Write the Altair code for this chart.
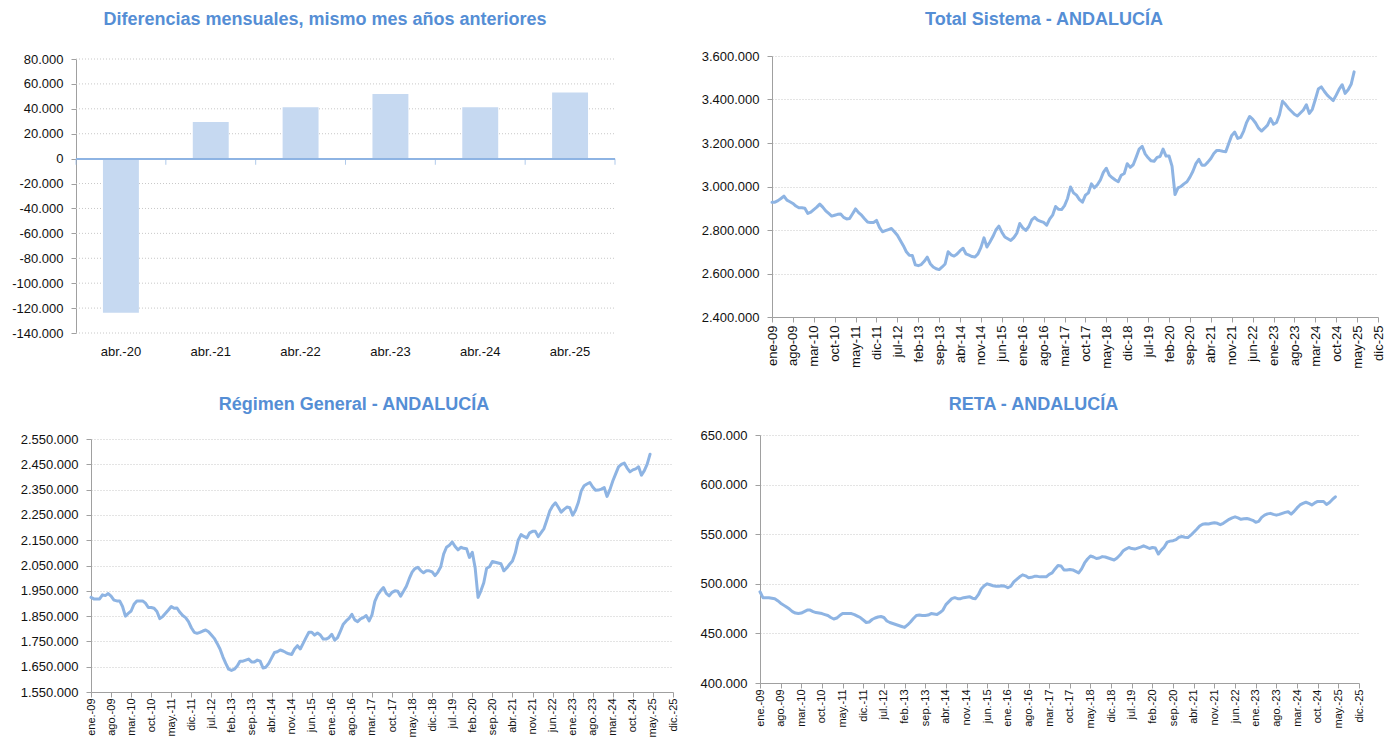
import json
import altair as alt
import pandas as pd

# ------------------------------------------------------------------ data
bar_categories = ["abr.-20", "abr.-21", "abr.-22", "abr.-23", "abr.-24", "abr.-25"]
bar_values = [-123800, 29400, 41200, 51900, 41200, 53200]

tick_labels_guion = ["ene-09", "ago-09", "mar-10", "oct-10", "may-11", "dic-11", "jul-12",
                     "feb-13", "sep-13", "abr-14", "nov-14", "jun-15", "ene-16", "ago-16",
                     "mar-17", "oct-17", "may-18", "dic-18", "jul-19", "feb-20", "sep-20",
                     "abr-21", "nov-21", "jun-22", "ene-23", "ago-23", "mar-24", "oct-24",
                     "may-25", "dic-25"]
tick_labels_punto = ["ene.-09", "ago.-09", "mar.-10", "oct.-10", "may.-11", "dic.-11", "jul.-12",
                     "feb.-13", "sep.-13", "abr.-14", "nov.-14", "jun.-15", "ene.-16", "ago.-16",
                     "mar.-17", "oct.-17", "may.-18", "dic.-18", "jul.-19", "feb.-20", "sep.-20",
                     "abr.-21", "nov.-21", "jun.-22", "ene.-23", "ago.-23", "mar.-24", "oct.-24",
                     "may.-25", "dic.-25"]

# monthly affiliates (thousands), ene-09 ... abr-25, one row per year
total_sistema = [
    2928, 2928, 2935, 2945, 2956, 2937, 2930, 2922, 2910, 2902, 2902, 2900,
    2876, 2882, 2894, 2905, 2919, 2905, 2888, 2876, 2864, 2868, 2872, 2874,
    2858, 2851, 2853, 2875, 2897, 2880, 2868, 2852, 2837, 2834, 2835, 2844,
    2812, 2792, 2797, 2802, 2807, 2792, 2776, 2752, 2728, 2700, 2684, 2683,
    2640, 2636, 2641, 2656, 2675, 2645, 2630, 2622, 2618, 2630, 2644, 2700,
    2686, 2680, 2690, 2705, 2716, 2690, 2684, 2678, 2676, 2690, 2720, 2764,
    2722, 2745, 2770, 2800, 2818, 2790, 2768, 2760, 2752, 2765, 2785, 2830,
    2810, 2798, 2815, 2846, 2858, 2845, 2840, 2835, 2822, 2850, 2868, 2908,
    2895, 2894, 2912, 2945, 2998, 2971, 2960, 2940, 2928, 2960, 2971, 3012,
    2994, 3008, 3030, 3065, 3084, 3052, 3040, 3030, 3022, 3052, 3060, 3105,
    3088, 3100, 3135, 3172, 3185, 3150, 3132, 3118, 3116, 3134, 3138, 3172,
    3140, 3140, 3094, 2963, 2994, 3000, 3012, 3022, 3043, 3070, 3105, 3125,
    3098, 3098, 3112, 3129, 3152, 3166, 3165, 3162, 3160, 3198, 3235, 3250,
    3221, 3226, 3255, 3295, 3322, 3310, 3292, 3268, 3255, 3268, 3282, 3312,
    3286, 3294, 3330, 3392, 3378, 3360, 3346, 3332, 3324, 3338, 3352, 3376,
    3336, 3355, 3400, 3448, 3458, 3438, 3420, 3407, 3395, 3420, 3448, 3468,
    3428, 3445, 3470, 3527,
]

regimen_general = [
    1924, 1918, 1918, 1918, 1934, 1931, 1939, 1929, 1913, 1910, 1910, 1888,
    1850, 1861, 1870, 1897, 1910, 1910, 1910, 1901, 1884, 1884, 1881, 1868,
    1840, 1848, 1861, 1874, 1888, 1881, 1882, 1865, 1852, 1844, 1828, 1804,
    1786, 1782, 1786, 1791, 1795, 1788, 1775, 1762, 1742, 1720, 1689, 1663,
    1640, 1635, 1640, 1653, 1672, 1672, 1676, 1680, 1669, 1669, 1676, 1672,
    1645, 1648, 1663, 1685, 1706, 1709, 1716, 1712, 1706, 1701, 1698, 1720,
    1733, 1720, 1742, 1765, 1786, 1786, 1775, 1783, 1775, 1759, 1759, 1765,
    1778, 1755, 1765, 1791, 1818, 1831, 1841, 1857, 1835, 1828, 1839, 1844,
    1852, 1831, 1855, 1908, 1934, 1950, 1963, 1940, 1930, 1944, 1950, 1948,
    1929, 1948, 1968, 1998, 2024, 2038, 2043, 2030, 2021, 2029, 2029, 2025,
    2010, 2024, 2045, 2095, 2122, 2130, 2143, 2125, 2112, 2122, 2118, 2116,
    2082, 2102, 2040, 1924, 1950, 1982, 2039, 2045, 2066, 2063, 2060, 2057,
    2029, 2040, 2055, 2068, 2100, 2150, 2172, 2165, 2159, 2179, 2185, 2185,
    2164, 2180, 2196, 2230, 2265, 2285, 2298, 2280, 2261, 2272, 2281, 2278,
    2249, 2268, 2300, 2345, 2365, 2372, 2378, 2360, 2347, 2348, 2352, 2358,
    2323, 2350, 2384, 2412, 2440, 2450, 2455, 2435, 2420, 2428, 2432, 2440,
    2407, 2425, 2451, 2490,
]

reta = [
    492, 486, 486, 486, 485.5, 485, 483, 480.5, 478.5, 476.5, 474.5, 472,
    470.5, 470, 470.5, 472, 473.5, 473.5, 472, 471, 470.5, 470, 469, 468,
    466, 464.5, 465.5, 468, 470, 470, 470, 470, 469, 467.5, 466, 463.5,
    461, 461.5, 464, 465.5, 466.5, 467, 466, 462.5, 461, 460, 459, 458,
    457, 456, 458.5, 461.5, 465, 468, 468.5, 468, 468, 468.5, 470, 469.5,
    469, 471, 473.5, 479, 482, 485, 486, 485, 485, 486, 486.5, 487,
    485.5, 485, 489, 495, 498, 500, 499, 498, 497.5, 497.5, 498, 497.5,
    496, 497.5, 502, 504.5, 507, 509, 508, 506, 506.5, 507.5, 507.5, 507,
    507, 507, 509.5, 511, 515, 518.5, 518, 514, 514, 514.5, 514, 512.5,
    511, 515, 521, 525, 528, 527, 525.5, 526, 527.4, 527, 526, 525,
    524, 526, 529, 533, 535, 536.6, 535.5, 535, 536, 537, 538.3, 537,
    535.6, 536.6, 536, 530, 534, 537, 542, 543, 543.5, 544.5, 547, 547.6,
    547, 546.6, 549, 552, 555, 558.2, 560, 560.6, 560.3, 561, 561.6, 561,
    559.6, 561, 563, 565, 566.5, 567.5, 566.5, 565, 565.5, 565.8, 565, 564,
    562, 563, 567, 569.2, 570.5, 571, 570, 569.2, 570, 571, 572, 572.6,
    570.2, 573, 576.5, 579.5, 581, 582.2, 581, 579.5, 581.5, 583, 583, 583,
    580, 582, 585, 587.7,
]

# ------------------------------------------------------------------ style
FONT = "Liberation Sans"
TITLE_COLOR = "#558ED5"
LINE_COLOR = "#8EB4E3"
BAR_COLOR = "#C6D9F1"
ZERO_COLOR = "#8EB4E3"
AXIS_GRAY = "#A0A0A0"
GRID_COLOR = "#C8C8C8"

THOUSANDS = ("(datum.value < 0 ? '-' : '') + "
             "replace(format(abs(datum.value), ','), regexp(',', 'g'), '.')")


def title_params(text, dx, offset):
    return alt.TitleParams(text, dx=dx, offset=offset, frame="group", anchor="middle")


def y_axis(values, min_extent, grid=True, offset=0):
    return alt.Axis(values=values, labelExpr=THOUSANDS, title=None, grid=grid,
                    gridDash=[1, 2], gridColor=GRID_COLOR, gridWidth=1,
                    tickSize=5, labelPadding=8, minExtent=min_extent, offset=offset,
                    labelOverlap=False, labelFontSize=13,
                    domainColor=AXIS_GRAY, tickColor=AXIS_GRAY)


def line_panel(values, title, tick_labels, ydomain, ystep, width, height,
               dx, offset, min_extent, xlabel_size, xlabel_pad, top=0):
    df = pd.DataFrame({"mes": list(range(len(values))),
                       "afiliados": [v * 1000 for v in values]})
    tick_vals = [7 * i for i in range(len(tick_labels))]
    label_expr = json.dumps(tick_labels) + "[round(datum.value / 7)]"
    yvals = list(range(ydomain[0], ydomain[1] + 1, ystep))
    return alt.Chart(df).mark_line(
        color=LINE_COLOR, strokeWidth=3, strokeCap="round", strokeJoin="round"
    ).encode(
        x=alt.X("mes:Q",
                scale=alt.Scale(domain=[0, tick_vals[-1]], nice=False, zero=False),
                axis=alt.Axis(values=tick_vals, labelExpr=label_expr, labelAngle=-90,
                              grid=False, title=None, tickSize=5, labelPadding=xlabel_pad,
                              labelFontSize=xlabel_size, labelOverlap=False,
                              domainColor=AXIS_GRAY, tickColor=AXIS_GRAY)),
        y=alt.Y("afiliados:Q",
                scale=alt.Scale(domain=list(ydomain), nice=False, zero=False,
                                range=[height, top]),
                axis=y_axis(yvals, min_extent)),
    ).properties(width=width, height=height, title=title_params(title, dx, offset))


# ------------------------------------------------------------------ bar panel
# the bar panel shares its left origin with the panel below it, so its own
# plot range starts 15 px to the left of that shared origin
BAR_SHIFT = 15
BAR_WIDTH = 524
BAR_HEIGHT = 277
bar_range = [-BAR_SHIFT, BAR_WIDTH]
n_cat = len(bar_categories)

bar_df = pd.DataFrame({"mes": bar_categories, "diferencia": bar_values})
bar_domain = [-140000, 80000]
bar_yvals = list(range(bar_domain[0], bar_domain[1] + 1, 20000))

y_shared = alt.Scale(domain=bar_domain, nice=False, range=[BAR_HEIGHT, 3])
bar_y_axis = y_axis(bar_yvals, 60, grid=False, offset=BAR_SHIFT)
x_limits = alt.Scale(domain=[0, n_cat], range=bar_range, nice=False, zero=False)

grid_df = pd.DataFrame({"valor": bar_yvals})
grid_rules = alt.Chart(grid_df).mark_rule(
    color=GRID_COLOR, strokeDash=[1, 2], strokeWidth=1
).encode(
    y=alt.Y("valor:Q", scale=y_shared, axis=bar_y_axis),
    x=alt.XDatum(0, scale=x_limits, axis=None),
    x2=alt.X2Datum(n_cat),
)
bars = alt.Chart(bar_df).mark_bar(color=BAR_COLOR).encode(
    x=alt.X("mes:N", sort=bar_categories,
            scale=alt.Scale(range=bar_range, paddingInner=0.6, paddingOuter=0.3,
                            round=False),
            axis=alt.Axis(title=None, labelAngle=0, domain=False, ticks=False,
                          tickSize=0, labelPadding=12, labelFontSize=13)),
    y=alt.Y("diferencia:Q", scale=y_shared, axis=bar_y_axis),
)
zero_line = alt.Chart(grid_df).mark_rule(color=ZERO_COLOR, strokeWidth=1.5).encode(
    y=alt.YDatum(0, scale=y_shared, axis=bar_y_axis),
    x=alt.XDatum(0, scale=x_limits, axis=None),
    x2=alt.X2Datum(n_cat),
)
limits_df = pd.DataFrame({"limite": list(range(n_cat + 1))})
limit_ticks = alt.Chart(limits_df).mark_tick(
    orient="vertical", size=6, thickness=1, yOffset=3, color=ZERO_COLOR
).encode(
    x=alt.X("limite:Q", scale=x_limits, axis=None),
    y=alt.YDatum(0, scale=y_shared, axis=bar_y_axis),
)
bar_panel = alt.layer(grid_rules, bars, zero_line, limit_ticks).resolve_scale(
    x="independent"
).properties(width=BAR_WIDTH, height=BAR_HEIGHT,
             title=title_params("Diferencias mensuales, mismo mes años anteriores", -28, 24))

# ------------------------------------------------------------------ line panels
total_panel = line_panel(total_sistema, "Total Sistema - ANDALUCÍA", tick_labels_guion,
                         (2400000, 3600000), 200000, 606, 261, -31, 21, 75, 13, 3)
rg_panel = line_panel(regimen_general, "Régimen General - ANDALUCÍA", tick_labels_punto,
                      (1550000, 2550000), 100000, 582, 253, -28, 19, 83, 11, 1)
reta_panel = line_panel(reta, "RETA - ANDALUCÍA", tick_labels_punto,
                        (400000, 650000), 50000, 599, 244, -26, 15, 70, 11, 1, top=-4)

row1 = alt.hconcat(bar_panel, total_panel, spacing=67)
row2 = alt.hconcat(rg_panel, reta_panel, spacing=12)

chart = alt.concat(row1, row2, columns=1, spacing=27).properties(
    padding={"top": 3, "left": 0, "right": 0, "bottom": 0}
).configure(
    font=FONT
).configure_view(
    stroke=None
).configure_axis(
    labelFont=FONT, labelColor="#111111"
).configure_title(
    font=FONT, fontSize=18, fontWeight="bold", color=TITLE_COLOR
)

chart.save("out.html", embed_options={"renderer": "svg", "actions": False})
